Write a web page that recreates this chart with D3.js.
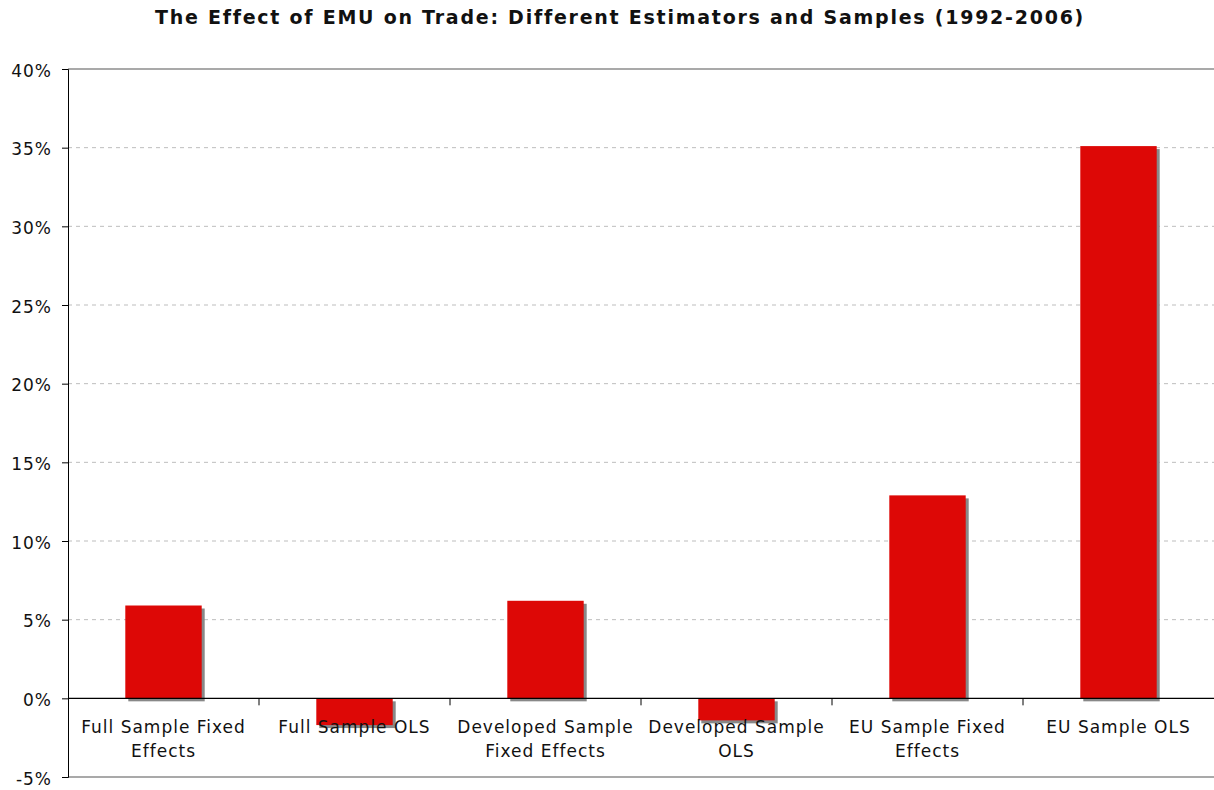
<!DOCTYPE html>
<html>
<head>
<meta charset="utf-8">
<script src="https://cdn.jsdelivr.net/npm/d3@7"></script>
<style>
  body { margin: 0; background: #fff; }
  svg text { font-family: "DejaVu Sans", Verdana, sans-serif; fill: #111; }
</style>
</head>
<body>
<svg id="chart" width="1214" height="790"></svg>
<script>
// chart data
const categories = [
  "Full Sample Fixed Effects",
  "Full Sample OLS",
  "Developed Sample Fixed Effects",
  "Developed Sample OLS",
  "EU Sample Fixed Effects",
  "EU Sample OLS"
];
const labelLines = [
  ["Full Sample Fixed", "Effects"],
  ["Full Sample OLS"],
  ["Developed Sample", "Fixed Effects"],
  ["Developed Sample", "OLS"],
  ["EU Sample Fixed", "Effects"],
  ["EU Sample OLS"]
];
const values = [5.9, -1.7, 6.2, -1.4, 12.9, 35.1];
const yTicks = [-5, 0, 5, 10, 15, 20, 25, 30, 35, 40];

const svg = d3.select("#chart");
const plotLeft = 68, plotRight = 1214, plotTop = 69, plotBottom = 777;

let x = d3.scaleBand().domain(categories).range([plotLeft, plotRight]).paddingInner(0).paddingOuter(0);
let y = d3.scaleLinear().domain([-5, 40]).range([plotBottom, plotTop]);

// title
svg.append("text")
  .attr("x", 620).attr("y", 24)
  .attr("text-anchor", "middle")
  .style("font-size", "19px").style("font-weight", "bold")
  .style("letter-spacing", "1.75px")
  .text("The Effect of EMU on Trade: Different Estimators and Samples (1992-2006)");

// gridlines
svg.append("g").selectAll("line")
  .data(yTicks.filter(d => d !== 0))
  .enter().append("line")
  .attr("x1", plotLeft).attr("x2", plotRight)
  .attr("y1", d => y(d)).attr("y2", d => y(d))
  .attr("stroke", d => (d === 40 || d === -5) ? "#8c8c8c" : "#bdbdbd")
  .attr("stroke-width", d => (d === 40 || d === -5) ? 1.5 : 1)
  .attr("stroke-dasharray", d => (d === 40 || d === -5) ? null : "4,4");

// y axis
const yAxis = svg.append("g")
  .attr("transform", `translate(${plotLeft},0)`)
  .call(d3.axisLeft(y).tickValues(yTicks).tickSize(6).tickPadding(10).tickFormat(d => d + "%"));
yAxis.select(".domain").attr("stroke", "#000");
yAxis.selectAll(".tick line").attr("stroke", "#000");
yAxis.selectAll("text")
  .style("font-size", "17px").style("letter-spacing", "1px")
  .attr("dy", "0.43em").attr("fill", "#111");

// bar shadows
svg.append("g").selectAll("rect")
  .data(values)
  .enter().append("rect")
  .attr("x", (d, i) => x(categories[i]) + x.bandwidth() * 0.3 + 3)
  .attr("width", x.bandwidth() * 0.4)
  .attr("y", d => Math.min(y(d), y(0)) + 3)
  .attr("height", d => Math.abs(y(d) - y(0)))
  .attr("fill", "#888");

// bars
svg.append("g").selectAll("rect")
  .data(values)
  .enter().append("rect")
  .attr("x", (d, i) => x(categories[i]) + x.bandwidth() * 0.3)
  .attr("width", x.bandwidth() * 0.4)
  .attr("y", d => Math.min(y(d), y(0)))
  .attr("height", d => Math.abs(y(d) - y(0)))
  .attr("fill", "#dd0806");

// zero line and category ticks
svg.append("line")
  .attr("x1", plotLeft).attr("x2", plotRight)
  .attr("y1", y(0)).attr("y2", y(0))
  .attr("stroke", "#000").attr("stroke-width", 1.2);

svg.append("g").selectAll("line")
  .data(categories.slice(1))
  .enter().append("line")
  .attr("x1", d => x(d)).attr("x2", d => x(d))
  .attr("y1", y(0)).attr("y2", y(0) + 7)
  .attr("stroke", "#000");

// category labels
const lbl = svg.append("g").selectAll("text")
  .data(categories)
  .enter().append("text")
  .attr("x", d => x(d) + x.bandwidth() / 2)
  .attr("y", y(0) + 35)
  .attr("text-anchor", "middle")
  .style("font-size", "17px")
  .style("letter-spacing", "1px");
lbl.selectAll("tspan")
  .data((d, i) => labelLines[i])
  .enter().append("tspan")
  .attr("x", function () { return d3.select(this.parentNode).attr("x"); })
  .attr("dy", (d, i) => i === 0 ? 0 : 24)
  .text(d => d);
</script>
</body>
</html>
